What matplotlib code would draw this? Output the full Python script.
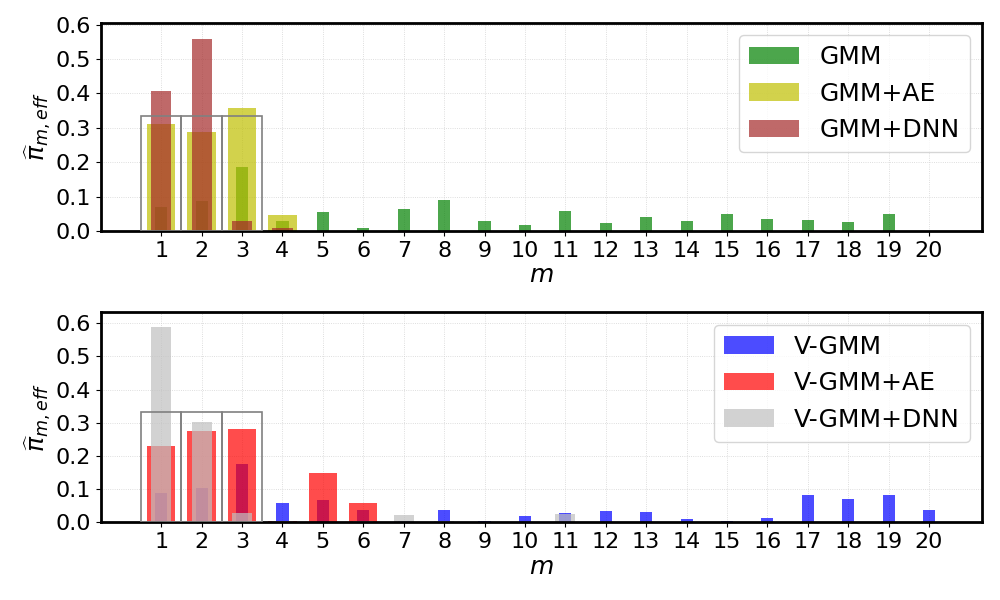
import numpy as np
import matplotlib
matplotlib.use("Agg")
import matplotlib.pyplot as plt

m = np.arange(1, 21)
true_m = [1, 2, 3]
true_pi = [1 / 3, 1 / 3, 1 / 3]

# top panel: GMM variants
gmm = [0.070, 0.087, 0.185, 0.029, 0.056, 0.010, 0.065, 0.091, 0.030, 0.018,
       0.059, 0.024, 0.042, 0.030, 0.050, 0.036, 0.033, 0.027, 0.048, 0.001]
gmm_ae = [0.310, 0.287, 0.357, 0.046, 0, 0, 0, 0, 0, 0,
          0, 0, 0, 0, 0, 0, 0, 0, 0, 0]
gmm_dnn = [0.406, 0.559, 0.029, 0.008, 0, 0, 0, 0, 0, 0,
           0, 0, 0, 0, 0, 0, 0, 0, 0, 0]

# bottom panel: V-GMM variants
vgmm = [0.089, 0.104, 0.177, 0.059, 0.068, 0.037, 0.004, 0.038, 0.004, 0.020,
        0.029, 0.035, 0.032, 0.010, 0.004, 0.013, 0.082, 0.070, 0.082, 0.038]
vgmm_ae = [0.229, 0.275, 0.281, 0.004, 0.150, 0.059, 0.001, 0.001, 0.001, 0.001,
           0.001, 0.001, 0.001, 0.001, 0.001, 0.001, 0.001, 0.001, 0.001, 0.001]
vgmm_dnn = [0.588, 0.302, 0.028, 0.004, 0.001, 0.004, 0.023, 0.004, 0.001, 0.002,
            0.026, 0.002, 0.002, 0.002, 0.002, 0.002, 0.001, 0.001, 0.001, 0.001]

fig = plt.figure(figsize=(10, 6), dpi=100)
ax1 = fig.add_axes([0.101, 0.615, 0.881, 0.347])
ax2 = fig.add_axes([0.101, 0.1295, 0.881, 0.35])


def panel(ax, s1, s2, s3, c, labels, ytop):
    ax.bar(m, s1, width=0.3, color=c[0], alpha=0.7, label=labels[0], zorder=2)
    ax.bar(m, s2, width=0.7, color=c[1], alpha=0.7, label=labels[1], zorder=2)
    ax.bar(m, s3, width=0.5, color=c[2], alpha=0.7, label=labels[2], zorder=2)
    ax.bar(true_m, true_pi, width=1.0, fill=False, edgecolor='gray', lw=1.2, zorder=3)
    ax.set_xticks(m)
    ax.set_xlim(-0.49, 21.31)
    ax.set_ylim(0, ytop)
    ax.set_yticks(np.arange(0, 0.61, 0.1))
    ax.tick_params(labelsize=16)
    ax.grid(True, ls=':', lw=0.6, color='lightgray', zorder=0)
    ax.set_axisbelow(True)
    for sp in ax.spines.values():
        sp.set_linewidth(2)
    ax.set_xlabel('$m$', fontsize=18, labelpad=2)
    ax.set_ylabel(r'$\widehat{\pi}_{m,eff}$', fontsize=18, labelpad=2)
    ax.legend(loc='upper right', fontsize=18)


panel(ax1, gmm, gmm_ae, gmm_dnn, ['g', 'y', 'brown'], ['GMM', 'GMM+AE', 'GMM+DNN'], 0.605)
panel(ax2, vgmm, vgmm_ae, vgmm_dnn, ['b', 'r', 'silver'], ['V-GMM', 'V-GMM+AE', 'V-GMM+DNN'], 0.633)

fig.savefig('out.png')
